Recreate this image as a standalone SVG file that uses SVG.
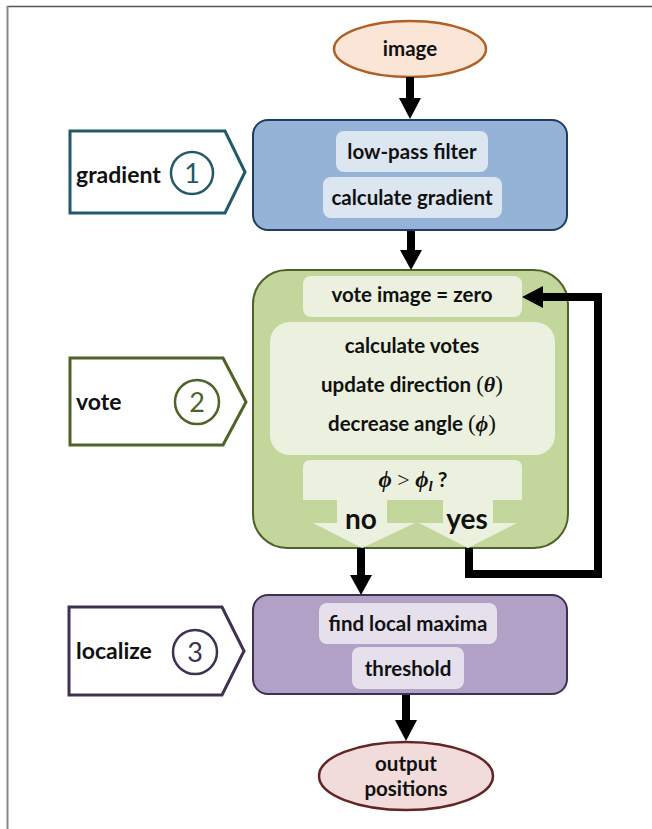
<svg xmlns="http://www.w3.org/2000/svg" width="652" height="829" viewBox="0 0 652 829">
<style>
.t{font-family:Lato,"Liberation Sans",sans-serif;font-weight:bold;fill:#111;text-anchor:middle;font-size:20.5px}
.lbl{font-family:Lato,"Liberation Sans",sans-serif;font-weight:bold;fill:#111;font-size:23px}
.m{font-family:"Liberation Serif",serif;font-weight:bold;font-style:italic}
.r{font-family:"Liberation Serif",serif;font-weight:normal;font-style:normal}
.num{font-family:Lato,"Liberation Sans",sans-serif;font-size:27px;text-anchor:middle}
.conn{stroke:#000;stroke-width:8;fill:none}
.head{fill:#000}
</style>
<rect width="652" height="829" fill="#fff"/>
<line x1="7" y1="6.5" x2="652" y2="6.5" stroke="#555" stroke-width="1.5"/>
<line x1="7.5" y1="6" x2="7.5" y2="829" stroke="#888" stroke-width="2"/>

<g id="image">
<ellipse cx="410" cy="49" rx="76" ry="28" fill="#fbe5d6" stroke="#b05f28" stroke-width="2.5"/>
<text class="t" x="410" y="56">image</text>
</g>

<g id="gradient-label">
<polygon points="70,131 225,131 245,172 225,213 70,213" fill="#fff" stroke="#215968" stroke-width="3"/>
<text class="lbl" x="76" y="183">gradient</text>
<circle cx="192" cy="173" r="21" fill="none" stroke="#215968" stroke-width="2.5"/>
<text class="num" x="192" y="183" fill="#215968">1</text>
</g>

<g id="gradient">
<rect x="253" y="120" width="314" height="110" rx="15" fill="#95b3d7" stroke="#1f3d5e" stroke-width="2"/>
<rect x="336" y="131" width="152" height="41" rx="8" fill="#dce6f1"/>
<text class="t" x="412" y="159">low-pass filter</text>
<rect x="323" y="177" width="179" height="41" rx="8" fill="#dce6f1"/>
<text class="t" x="412" y="205">calculate gradient</text>
</g>

<g id="vote-label">
<polygon points="70,358 223,358 246,402 223,445 70,445" fill="#fff" stroke="#4f6228" stroke-width="3"/>
<text class="lbl" x="76" y="410">vote</text>
<circle cx="197" cy="402" r="22" fill="none" stroke="#4f6228" stroke-width="2.5"/>
<text class="num" x="197" y="412" fill="#4f6228">2</text>
</g>

<g id="vote">
<rect x="253" y="270" width="315" height="278" rx="34" fill="#c3d69b" stroke="#4f6228" stroke-width="2"/>
<rect x="303" y="276" width="219" height="41" rx="8" fill="#ebf1de"/>
<text class="t" x="412" y="302">vote image = zero</text>
<rect x="270" y="322" width="285" height="133" rx="20" fill="#ebf1de"/>
<text class="t" x="412" y="353">calculate votes</text>
<text class="t" x="412" y="392">update direction <tspan class="r" font-size="23">(</tspan><tspan class="m" font-size="22">θ</tspan><tspan class="r" font-size="23">)</tspan></text>
<text class="t" x="412" y="431">decrease angle <tspan class="r" font-size="23">(</tspan><tspan class="m" font-size="22">ϕ</tspan><tspan class="r" font-size="23">)</tspan></text>
<path d="M311,460 H514 Q522,460 522,468 V500 H493 V523 H517 L468,548 L419,523 H443 V500 H387 V523 H415 L362,548 L313,523 H337 V500 H303 V468 Q303,460 311,460 Z" fill="#ebf1de"/>
<text class="t" x="413" y="487"><tspan class="m" font-size="23">ϕ</tspan><tspan class="r" font-size="22"> &gt; </tspan><tspan class="m" font-size="23">ϕ</tspan><tspan class="m" font-size="15" dy="4">l</tspan><tspan dy="-4" font-size="21"> ?</tspan></text>
<text class="t" x="361" y="529" font-size="28" style="font-size:28px">no</text>
<text class="t" x="467" y="529" style="font-size:28px">yes</text>
</g>

<g id="localize-label">
<polygon points="69,607 222,607 244,651 222,695 69,695" fill="#fff" stroke="#3f3151" stroke-width="3"/>
<text class="lbl" x="76" y="659">localize</text>
<circle cx="195" cy="652" r="22" fill="none" stroke="#3f3151" stroke-width="2.5"/>
<text class="num" x="195" y="662" fill="#3f3151">3</text>
</g>

<g id="localize">
<rect x="253" y="595" width="314" height="99" rx="15" fill="#b2a1c7" stroke="#3f3151" stroke-width="2"/>
<rect x="319" y="603" width="178" height="41" rx="8" fill="#e5e0ec"/>
<text class="t" x="408" y="631">find local maxima</text>
<rect x="352" y="647" width="112" height="42" rx="8" fill="#e5e0ec"/>
<text class="t" x="408" y="676">threshold</text>
</g>

<g id="output">
<ellipse cx="406" cy="776" rx="87" ry="34" fill="#f2dcdb" stroke="#632523" stroke-width="2.5"/>
<text class="t" x="406" y="771">output</text>
<text class="t" x="406" y="796">positions</text>
</g>

<g id="connectors">
<line class="conn" x1="410" y1="77" x2="410" y2="100"/>
<polygon class="head" points="399,98 421,98 410,119"/>
<line class="conn" x1="411" y1="231" x2="411" y2="252"/>
<polygon class="head" points="400,250 422,250 411,270"/>
<line class="conn" x1="361" y1="548" x2="361" y2="577"/>
<polygon class="head" points="350,575 372,575 361,595"/>
<polyline class="conn" points="469,548 469,574 598,574 598,297 541,297"/>
<polygon class="head" points="543,286 543,308 522,297"/>
<line class="conn" x1="406" y1="695" x2="406" y2="722"/>
<polygon class="head" points="395,720 417,720 406,741"/>
</g>
</svg>
